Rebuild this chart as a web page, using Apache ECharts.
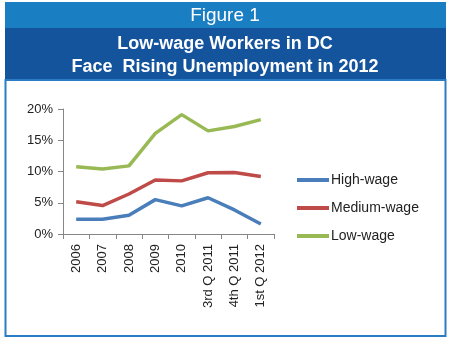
<!DOCTYPE html>
<html><head><meta charset="utf-8">
<script src="https://cdn.jsdelivr.net/npm/echarts@6/dist/echarts.min.js"></script>
<style>html,body{margin:0;padding:0;background:#fff}#c{width:450px;height:341px}</style>
</head><body><div id="c"></div>
<script>
var categories = ['2006','2007','2008','2009','2010','3rd Q 2011','4th Q 2011','1st Q 2012'];
var highWage = [2.35, 2.35, 3.0, 5.5, 4.5, 5.8, 3.85, 1.6];
var mediumWage = [5.15, 4.55, 6.4, 8.65, 8.5, 9.8, 9.85, 9.2];
var lowWage = [10.75, 10.4, 10.9, 16.1, 19.1, 16.5, 17.2, 18.3];
var yTicks = [0, 5, 10, 15, 20];

var chart = echarts.init(document.getElementById('c'), null, {renderer:'canvas'});
var fontF = '"Liberation Sans", Arial, sans-serif';
chart.setOption({
  animation: false,
  backgroundColor: '#fff',
  graphic: [
    {type:'rect', shape:{x:5,y:2,width:441,height:27}, style:{fill:'#1a7ec3'}, z:-1},
    {type:'rect', shape:{x:5,y:28,width:441,height:52}, style:{fill:'#14549d'}, z:-1},
    {type:'rect', shape:{x:5.5,y:80,width:440,height:256}, style:{fill:'none', stroke:'#2a7dc4', lineWidth:2}, z:-1},
    {type:'text', x:225, y:16, style:{text:'Figure 1', fill:'#fff', font:'19px ' + fontF, align:'center', verticalAlign:'middle'}},
    {type:'text', x:225, y:44, style:{text:'Low-wage Workers in DC', fill:'#fff', font:'bold 18px ' + fontF, align:'center', verticalAlign:'middle'}},
    {type:'text', x:225, y:67, style:{text:'Face  Rising Unemployment in 2012', fill:'#fff', font:'bold 18px ' + fontF, align:'center', verticalAlign:'middle'}}
  ],
  grid: {left:63, right:176, top:109, bottom:107, containLabel:false},
  legend: {
    orient:'vertical', left:292, top:168, itemGap:14, itemWidth:32, itemHeight:4,
    icon:'rect', textStyle:{fontFamily:fontF, fontSize:14, color:'#222', padding:[0,0,0,-3]},
    data:['High-wage','Medium-wage','Low-wage']
  },
  xAxis: {
    type:'category', data:categories, boundaryGap:true,
    axisLine:{lineStyle:{color:'#868686', width:1}},
    axisTick:{show:true, length:5, lineStyle:{color:'#868686'}},
    axisLabel:{rotate:90, color:'#222', fontFamily:fontF, fontSize:13, margin:10, interval:0}
  },
  yAxis: {
    type:'value', min:0, max:20, interval:5,
    axisLine:{show:true, lineStyle:{color:'#868686'}},
    axisTick:{show:true, length:5, lineStyle:{color:'#868686'}},
    splitLine:{show:false},
    axisLabel:{color:'#222', fontFamily:fontF, fontSize:13, margin:10, formatter:function(v){return yTicks.indexOf(v)>=0 ? v+'%' : '';}}
  },
  series: [
    {name:'High-wage', type:'line', data:highWage, symbol:'none', lineStyle:{width:3.5, color:'#4a7ebb'}, itemStyle:{color:'#4a7ebb'}},
    {name:'Medium-wage', type:'line', data:mediumWage, symbol:'none', lineStyle:{width:3.5, color:'#be4b48'}, itemStyle:{color:'#be4b48'}},
    {name:'Low-wage', type:'line', data:lowWage, symbol:'none', lineStyle:{width:3.5, color:'#98b954'}, itemStyle:{color:'#98b954'}}
  ]
});
</script></body></html>
